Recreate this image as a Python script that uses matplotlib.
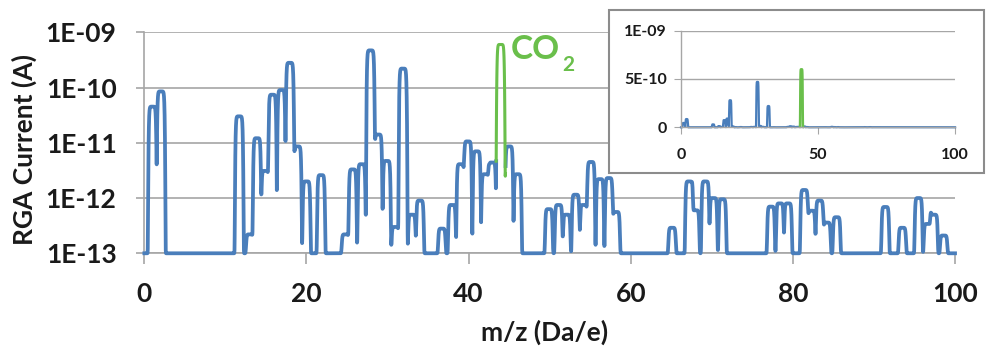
import numpy as np
import matplotlib
matplotlib.use('Agg')
import matplotlib.pyplot as plt
from matplotlib.patches import Rectangle

plt.rcParams['font.family'] = ['Lato', 'DejaVu Sans']

# peak positions (m/z) and peak currents (A)
peak_mz = [1.0, 2.05, 11.7, 13.0, 13.9, 14.9, 15.8, 16.9, 17.95, 18.9, 20.0, 21.8,
           24.8, 25.7, 26.8, 27.9, 28.85, 29.9, 30.95, 31.9, 33.0, 34.0, 36.7, 37.95,
           39.0, 39.9, 41.0, 42.05, 42.9, 43.95, 45.0, 46.05, 49.9, 51.1, 52.1, 53.2,
           54.2, 55.1, 56.2, 57.3, 58.2, 65.1, 67.2, 68.0, 69.2, 70.2, 71.3, 77.3,
           78.4, 79.4, 81.4, 82.3, 83.3, 84.2, 85.4, 91.4, 93.5, 95.5, 96.6, 97.4, 98.6]
peak_current = [4.5e-11, 8.5e-11, 3.0e-11, 1.2e-13, 1.2e-11, 3.0e-12, 7.4e-11, 9.0e-11,
                2.8e-10, 8.5e-12, 1.9e-12, 2.5e-12, 1.2e-13, 3.2e-12, 4.0e-12, 4.7e-10,
                1.4e-11, 4.6e-12, 2.0e-13, 2.2e-10, 4.0e-13, 8.0e-13, 1.8e-13, 6.5e-13,
                4.0e-12, 1.05e-11, 6.9e-12, 2.6e-12, 4.3e-12, 6.0e-10, 8.5e-12, 2.6e-12,
                5.3e-13, 6.5e-13, 4.0e-13, 1.05e-12, 6.5e-13, 4.4e-12, 2.1e-12, 2.2e-12,
                4.6e-13, 1.9e-13, 1.9e-12, 5.0e-13, 1.9e-12, 9.0e-13, 8.5e-13, 6.0e-13,
                7.0e-13, 7.0e-13, 1.3e-12, 4.9e-13, 8.0e-13, 2.6e-13, 3.5e-13, 5.9e-13,
                1.9e-13, 9.0e-13, 2.4e-13, 4.0e-13, 1.1e-13]
baseline = 1e-13
co2_range = [43.4, 44.55]

main_ticks = [1e-13, 1e-12, 1e-11, 1e-10, 1e-9]
main_ticklabels = ['1E-13', '1E-12', '1E-11', '1E-10', '1E-09']
x_ticks = [0, 20, 40, 60, 80, 100]
inset_yticks = [0, 5e-10, 1e-9]
inset_yticklabels = ['0', '5E-10', '1E-09']
inset_xticks = [0, 50, 100]

blue = '#4a7ebb'
green = '#6abf4b'
grid_gray = '#a6a6a6'
text_col = '#1a1a1a'

# scan trace: each peak drawn with a flat-topped RGA peak shape
mz = np.linspace(0, 100, 5001)
current = np.full_like(mz, baseline)
for m, h in zip(peak_mz, peak_current):
    current += h * np.exp(-((mz - m) / 0.45) ** 8)
co2 = (mz >= co2_range[0]) & (mz <= co2_range[1])
co2_inner = (mz > co2_range[0]) & (mz < co2_range[1])
blue_part = np.where(co2_inner, np.nan, current)

fig = plt.figure(figsize=(9.86, 3.52), dpi=100)
ax = fig.add_axes([0.1464, 0.2804, 0.8222, 0.628])
ax.plot(mz, blue_part, color=blue, lw=2.7, clip_on=False, zorder=3)
ax.plot(mz[co2], current[co2], color=green, lw=2.2, clip_on=False, zorder=4)
ax.set_yscale('log')
ax.set_ylim(1e-13, 1e-9)
ax.set_xlim(0, 100)
ax.yaxis.set_major_locator(matplotlib.ticker.FixedLocator(main_ticks))
ax.yaxis.set_minor_locator(matplotlib.ticker.NullLocator())
ax.set_yticklabels(main_ticklabels)
ax.set_xticks(x_ticks)
ax.grid(axis='y', color=grid_gray, lw=1.2)
ax.set_axisbelow(True)
for s in ['top', 'right']:
    ax.spines[s].set_visible(False)
for s in ['left', 'bottom']:
    ax.spines[s].set_color(grid_gray)
    ax.spines[s].set_linewidth(1.2)
ax.tick_params(axis='y', length=6, width=1.2, color=grid_gray, pad=14,
               labelsize=19, labelcolor=text_col)
ax.tick_params(axis='x', length=8, width=1.2, color=grid_gray, pad=13,
               labelsize=19, labelcolor=text_col)
for lab in ax.get_xticklabels() + ax.get_yticklabels():
    lab.set_fontweight('bold')
ax.set_xlabel('m/z (Da/e)', fontsize=19, fontweight='bold', color=text_col)
ax.xaxis.set_label_coords(0.494, -0.30)
ax.set_ylabel('RGA Current (A)', fontsize=19, fontweight='bold', color=text_col)
ax.yaxis.set_label_coords(-0.132, 0.47)

ax.text(0.452, 0.92, 'CO', transform=ax.transAxes, color=green, fontsize=24,
        fontweight='bold', va='center', ha='left')
ax.text(0.515, 0.852, '2', transform=ax.transAxes, color=green, fontsize=15,
        fontweight='bold', va='center', ha='left')

# inset box
box = Rectangle((0.6176, 0.5085), 0.3803, 0.463, transform=fig.transFigure,
                facecolor='white', edgecolor='#8c8c8c', lw=1.5, zorder=1)
fig.add_artist(box)

axi = fig.add_axes([0.6907, 0.6384, 0.2779, 0.2744])
axi.set_zorder(2)
axi.plot(mz, blue_part, color=blue, lw=1.6, clip_on=False)
axi.plot(mz[co2], current[co2], color=green, lw=1.8, clip_on=False)
axi.set_xlim(0, 100)
axi.set_ylim(0, 1e-9)
axi.set_yticks(inset_yticks)
axi.set_yticklabels(inset_yticklabels)
axi.set_xticks(inset_xticks)
axi.grid(axis='y', color=grid_gray, lw=1.0)
axi.set_axisbelow(True)
for s in ['top', 'right']:
    axi.spines[s].set_visible(False)
for s in ['left', 'bottom']:
    axi.spines[s].set_color(grid_gray)
    axi.spines[s].set_linewidth(1.0)
axi.tick_params(axis='y', length=5, color=grid_gray, pad=5, labelsize=11.5, labelcolor=text_col)
axi.tick_params(axis='x', length=5, color=grid_gray, pad=10, labelsize=11.5, labelcolor=text_col)
for lab in axi.get_xticklabels() + axi.get_yticklabels():
    lab.set_fontweight('bold')

fig.savefig('out.png', dpi=100)
